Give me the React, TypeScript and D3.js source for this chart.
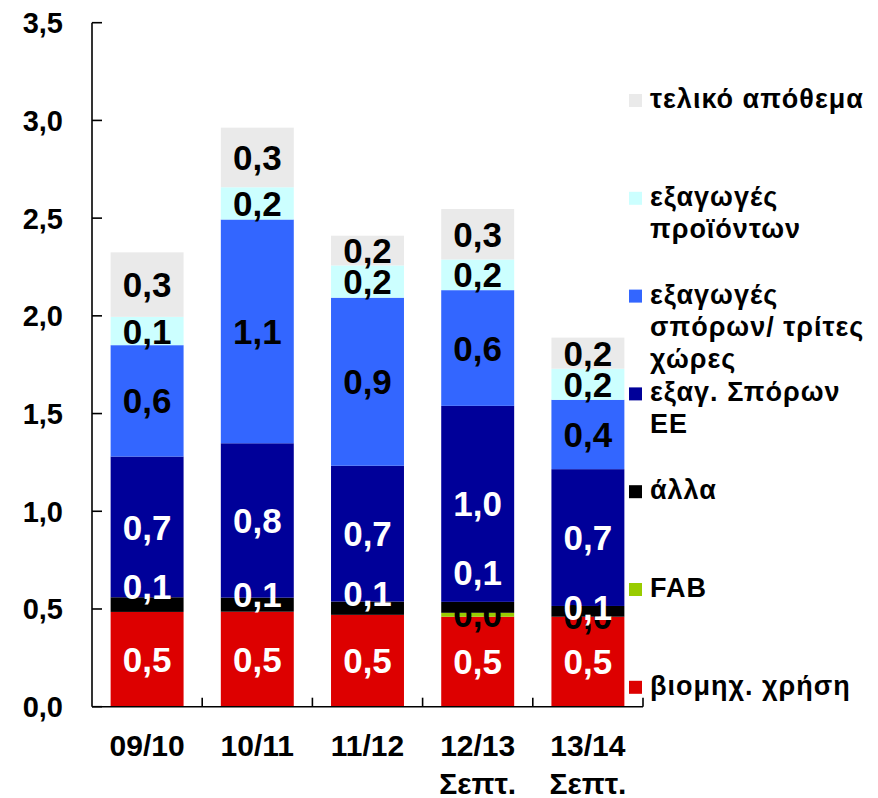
import React from "react";
import * as d3 from "d3";

const categories = ["09/10", "10/11", "11/12", "12/13", "13/14"];
const categorySub = ["", "", "", "Σεπτ.", "Σεπτ."];

// stacked bottom -> top
const industrialUse = [0.485, 0.486, 0.47, 0.4605, 0.4605];
const fab: (number | null)[] = [null, null, null, 0.02, 0];
const other = [0.075, 0.072, 0.068, 0.056, 0.055];
const euSeedExports = [0.72, 0.79, 0.695, 1.003, 0.7];
const thirdSeedExports = [0.57, 1.145, 0.86, 0.592, 0.355];
const productExports = [0.145, 0.165, 0.165, 0.157, 0.159];
const endStock = [0.33, 0.305, 0.152, 0.258, 0.159];

const yTicks = [0, 0.5, 1, 1.5, 2, 2.5, 3, 3.5];

const seriesNames = [
  ["βιομηχ. χρήση"],
  ["FAB"],
  ["άλλα"],
  ["εξαγ. Σπόρων", "ΕΕ"],
  ["εξαγωγές", "σπόρων/ τρίτες", "χώρες"],
  ["εξαγωγές", "προϊόντων"],
  ["τελικό απόθεμα"],
];
const seriesValues: (number | null)[][] = [
  industrialUse,
  fab,
  other,
  euSeedExports,
  thirdSeedExports,
  productExports,
  endStock,
];

// styles
const fills = ["#DD0000", "#99CC00", "#000000", "#000099", "#3366FF", "#CCFFFF", "#EAEAEA"];
const labelColors = ["#fff", "#000", "#fff", "#fff", "#000", "#000", "#000"];
// manual label nudges (px) for the "άλλα" series, as in the original
const otherLabelShift = [-18, -10, -15, -35, -4];

const W = 878;
const H = 798;
const FONT = "'Liberation Sans', Arial, Helvetica, sans-serif";

export default function App() {
  const x = d3
    .scaleBand<string>()
    .domain(categories)
    .range([92, 643])
    .paddingInner(0.338)
    .paddingOuter(0.169);
  const y = d3.scaleLinear().domain([0, 3.5]).range([706.7, 22.7]);

  const rows = categories.map((c, i) => {
    const r: any = { cat: c };
    seriesValues.forEach((s, k) => (r["s" + k] = s[i] ?? 0));
    return r;
  });
  const stack = d3.stack<any>().keys(seriesValues.map((_, k) => "s" + k));
  const stacked = stack(rows);
  const fmt = (v: number) => d3.format(".1f")(v).replace(".", ",");

  const x0 = x.range()[0];
  const x1 = x.range()[1];
  const yBase = y(0);
  const boundaries = categories.map((c) => (x(c) as number) - (x.step() * x.paddingInner()) / 2);
  boundaries.push(x1);

  const legendBase = 108;
  const legendStep = 97.8;
  const legendOrder = seriesNames.map((_, k) => seriesNames.length - 1 - k);

  return (
    <svg
      width={W}
      height={H}
      style={{ position: "absolute", left: 0, top: 0, background: "#fff" }}
      fontFamily={FONT}
      fontWeight="bold"
    >
      {/* bars */}
      {stacked.map((layer, k) => (
        <g key={"l" + k}>
          {layer.map((d, i) =>
            seriesValues[k][i] === null ? null : (
              <rect
                key={i}
                x={x(categories[i])}
                width={x.bandwidth()}
                y={y(d[1])}
                height={Math.max(0, y(d[0]) - y(d[1]))}
                fill={fills[k]}
              />
            )
          )}
        </g>
      ))}
      {/* data labels */}
      {stacked.map((layer, k) => (
        <g key={"t" + k}>
          {layer.map((d, i) => {
            const v = seriesValues[k][i];
            if (v === null) return null;
            const cy = (y(d[0]) + y(d[1])) / 2 + (k === 2 ? otherLabelShift[i] : 0);
            return (
              <text
                key={i}
                x={(x(categories[i]) as number) + x.bandwidth() / 2}
                y={cy}
                dy="0.36em"
                textAnchor="middle"
                fontSize={35}
                fill={labelColors[k]}
              >
                {fmt(v)}
              </text>
            );
          })}
        </g>
      ))}
      {/* y axis */}
      <line x1={x0} x2={x0} y1={y(0)} y2={y(3.5)} stroke="#000" strokeWidth={1.6} />
      {yTicks.map((t) => (
        <g key={t}>
          <line x1={x0} x2={x0 + 10} y1={y(t)} y2={y(t)} stroke="#000" strokeWidth={1.6} />
          <text x={63} y={y(t)} dy="0.36em" textAnchor="end" fontSize={29} fill="#000">
            {fmt(t)}
          </text>
        </g>
      ))}
      {/* x axis */}
      <line x1={x0} x2={x1} y1={yBase} y2={yBase} stroke="#000" strokeWidth={1.6} />
      {boundaries.slice(1).map((b, i) => (
        <line key={i} x1={b} x2={b} y1={yBase} y2={yBase - 9} stroke="#000" strokeWidth={1.6} />
      ))}
      {categories.map((c, i) => (
        <text
          key={c}
          x={(x(c) as number) + x.bandwidth() / 2}
          y={756}
          textAnchor="middle"
          fontSize={30}
          fill="#000"
        >
          <tspan x={(x(c) as number) + x.bandwidth() / 2}>{c}</tspan>
          {categorySub[i] ? (
            <tspan x={(x(c) as number) + x.bandwidth() / 2} dy={38}>
              {categorySub[i]}
            </tspan>
          ) : null}
        </text>
      ))}
      {/* legend */}
      {legendOrder.map((k, idx) => {
        const base = legendBase + idx * legendStep;
        return (
          <g key={"lg" + k}>
            <rect x={629} y={base - 14} width={13} height={13} fill={fills[k]} />
            <text x={650} y={base} fontSize={27} letterSpacing={1} fill="#000">
              {seriesNames[k].map((line, j) => (
                <tspan key={j} x={650} dy={j === 0 ? 0 : 32}>
                  {line}
                </tspan>
              ))}
            </text>
          </g>
        );
      })}
    </svg>
  );
}
